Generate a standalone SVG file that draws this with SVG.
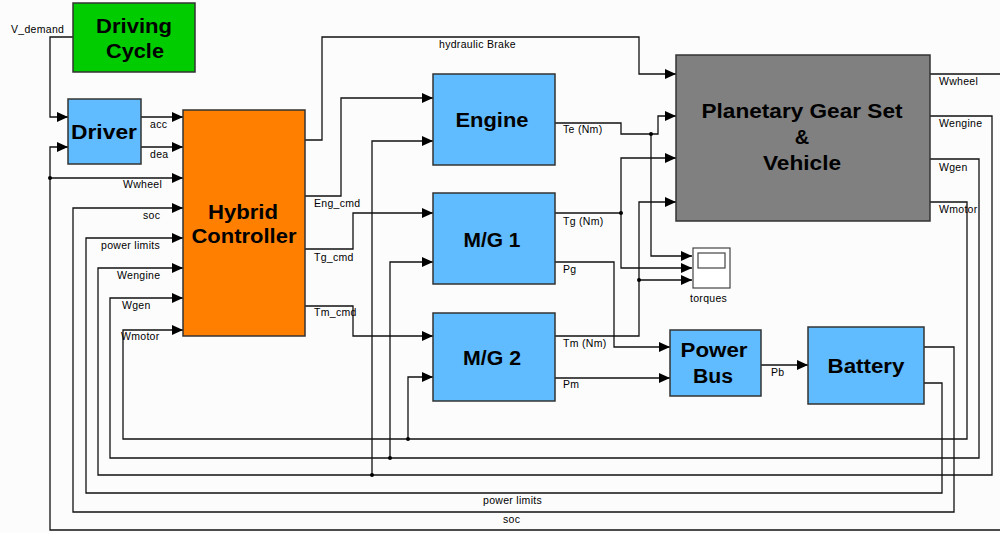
<svg xmlns="http://www.w3.org/2000/svg" width="1000" height="533" viewBox="0 0 1000 533">
<defs>
<marker id="arr" markerWidth="11" markerHeight="10" refX="11" refY="5" orient="auto" markerUnits="userSpaceOnUse"><path d="M0,0 L11,5 L0,10 z" fill="#000"/></marker>
<style>
.blk{stroke:#333;stroke-width:1.5}
.blue{fill:#60BCFF}
.big{font-family:"Liberation Sans",Arial,sans-serif;font-weight:bold;font-size:20px;fill:#000;text-anchor:middle}
.sm{font-family:"Liberation Sans",Arial,sans-serif;font-size:10.5px;fill:#000;letter-spacing:0.3px}
.ln{fill:none;stroke:#111;stroke-width:1.3}
.ar{marker-end:url(#arr)}
.dot{fill:#000}
</style>
</defs>
<rect width="1000" height="533" fill="#fcfcfc"/>

<g id="connectors">
<path class="ln ar" d="M73,37 H50 V117 H68"/>
<path class="ln ar" d="M141,117 H183"/>
<path class="ln ar" d="M141,147 H183"/>
<path class="ln ar" d="M930,74 H1004 V530 H50 V178 H183"/>
<path class="ln ar" d="M50,178 V147 H68"/>
<path class="ln ar" d="M924,347 H954 V512 H73 V208 H183"/>
<path class="ln ar" d="M924,383 H942 V493 H86 V238 H183"/>
<path class="ln ar" d="M930,116 H992 V475 H98 V268 H183"/>
<path class="ln ar" d="M930,159 H979 V458 H110 V298 H183"/>
<path class="ln ar" d="M930,202 H967 V439 H123 V330 H183"/>
<path class="ln ar" d="M372,475 V141 H433"/>
<path class="ln ar" d="M390,458 V262 H433"/>
<path class="ln ar" d="M408,439 V377 H433"/>
<path class="ln ar" d="M305,140 H322 V37 H639 V74 H676"/>
<path class="ln ar" d="M305,196 H341 V98 H433"/>
<path class="ln ar" d="M305,249 H353 V213 H433"/>
<path class="ln ar" d="M305,306 H353 V336 H433"/>
<path class="ln ar" d="M555,123 H621 V134 H658 V116 H676"/>
<path class="ln ar" d="M651,134 V256 H692"/>
<path class="ln ar" d="M555,213 H621 V158 H676"/>
<path class="ln ar" d="M621,213 V268 H692"/>
<path class="ln ar" d="M555,336 H639 V202 H676"/>
<path class="ln ar" d="M639,280 H692"/>
<path class="ln ar" d="M555,262 H614 V347 H670"/>
<path class="ln ar" d="M555,378 H670"/>
<path class="ln ar" d="M761,365 H808"/>
<circle class="dot" cx="50" cy="178" r="2"/>
<circle class="dot" cx="651" cy="134" r="2"/>
<circle class="dot" cx="621" cy="213" r="2"/>
<circle class="dot" cx="639" cy="280" r="2"/>
<circle class="dot" cx="372" cy="475" r="2"/>
<circle class="dot" cx="390" cy="458" r="2"/>
<circle class="dot" cx="408" cy="439" r="2"/>
<text class="sm" x="11" y="33">V_demand</text>
<text class="sm" x="150" y="128">acc</text>
<text class="sm" x="150" y="158">dea</text>
<text class="sm" x="123" y="188">Wwheel</text>
<text class="sm" x="143" y="219">soc</text>
<text class="sm" x="101" y="249">power limits</text>
<text class="sm" x="117" y="279">Wengine</text>
<text class="sm" x="122" y="309">Wgen</text>
<text class="sm" x="121" y="340">Wmotor</text>
<text class="sm" x="314" y="207">Eng_cmd</text>
<text class="sm" x="314" y="261">Tg_cmd</text>
<text class="sm" x="314" y="316">Tm_cmd</text>
<text class="sm" x="439" y="48">hydraulic Brake</text>
<text class="sm" x="563" y="133">Te (Nm)</text>
<text class="sm" x="563" y="225">Tg (Nm)</text>
<text class="sm" x="563" y="273">Pg</text>
<text class="sm" x="563" y="347">Tm (Nm)</text>
<text class="sm" x="563" y="388">Pm</text>
<text class="sm" x="771" y="376">Pb</text>
<text class="sm" x="939" y="85">Wwheel</text>
<text class="sm" x="939" y="127">Wengine</text>
<text class="sm" x="939" y="171">Wgen</text>
<text class="sm" x="939" y="213">Wmotor</text>
<text class="sm" x="483" y="504">power limits</text>
<text class="sm" x="503" y="523">soc</text>
</g>

<g id="driving-cycle">
<rect class="blk" x="73" y="3" width="122" height="69" fill="#00CC00"/>
<text class="big" x="134" y="33" textLength="76" lengthAdjust="spacingAndGlyphs">Driving</text>
<text class="big" x="135" y="58" textLength="58" lengthAdjust="spacingAndGlyphs">Cycle</text>
</g>

<g id="driver">
<rect class="blk blue" x="68" y="99" width="73" height="65"/>
<text class="big" x="104" y="139" textLength="66" lengthAdjust="spacingAndGlyphs">Driver</text>
</g>

<g id="hybrid-controller">
<rect class="blk" x="183" y="110" width="122" height="226" fill="#FF8000"/>
<text class="big" x="243" y="219" textLength="70" lengthAdjust="spacingAndGlyphs">Hybrid</text>
<text class="big" x="244" y="243" textLength="105" lengthAdjust="spacingAndGlyphs">Controller</text>
</g>

<g id="engine">
<rect class="blk blue" x="433" y="74" width="122" height="91"/>
<text class="big" x="492" y="127" textLength="73" lengthAdjust="spacingAndGlyphs">Engine</text>
</g>

<g id="mg1">
<rect class="blk blue" x="433" y="193" width="122" height="91"/>
<text class="big" x="492" y="247" textLength="57" lengthAdjust="spacingAndGlyphs">M/G 1</text>
</g>

<g id="mg2">
<rect class="blk blue" x="433" y="313" width="122" height="88"/>
<text class="big" x="492" y="365" textLength="58" lengthAdjust="spacingAndGlyphs">M/G 2</text>
</g>

<g id="planetary">
<rect class="blk" x="676" y="55" width="254" height="166" fill="#808080"/>
<text class="big" x="802" y="118" textLength="201" lengthAdjust="spacingAndGlyphs" fill="#111">Planetary Gear Set</text>
<text class="big" x="802" y="144" fill="#111">&amp;</text>
<text class="big" x="802" y="170" textLength="78" lengthAdjust="spacingAndGlyphs" fill="#111">Vehicle</text>
</g>

<g id="torques">
<rect x="693" y="248" width="37" height="40" fill="#fff" stroke="#444" stroke-width="1.2"/>
<rect x="698" y="253" width="27" height="15" fill="#fff" stroke="#444" stroke-width="1.2"/>
<text class="sm" x="690" y="302">torques</text>
</g>

<g id="power-bus">
<rect class="blk blue" x="670" y="330" width="91" height="66"/>
<text class="big" x="714" y="357" textLength="67" lengthAdjust="spacingAndGlyphs">Power</text>
<text class="big" x="713" y="383" textLength="40" lengthAdjust="spacingAndGlyphs">Bus</text>
</g>

<g id="battery">
<rect class="blk blue" x="808" y="327" width="116" height="77"/>
<text class="big" x="866" y="373" textLength="77" lengthAdjust="spacingAndGlyphs">Battery</text>
</g>
</svg>
